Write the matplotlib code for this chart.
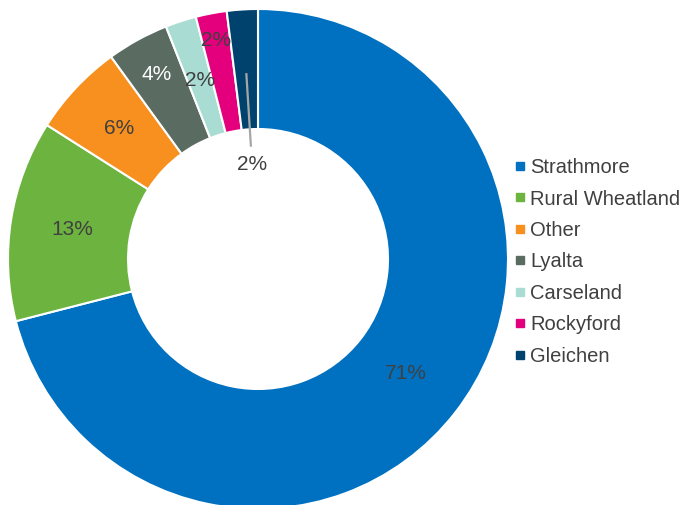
import numpy as np
import matplotlib
matplotlib.use("Agg")
import matplotlib.pyplot as plt
from matplotlib.lines import Line2D

plt.rcParams['font.family'] = ['Liberation Sans', 'DejaVu Sans']

# Share of respondents by community (%)
regions = ["Strathmore", "Rural Wheatland", "Other", "Lyalta",
           "Carseland", "Rockyford", "Gleichen"]
shares = [71, 13, 6, 4, 2, 2, 2]
colors = ["#0070C0", "#6DB33F", "#F7901E", "#5A6B62",
          "#A9DDD3", "#E4007C", "#00426E"]

# radial position of each percentage label (in units of the outer radius)
label_r = [0.75, 0.75, 0.76, 0.84, 0.75, 0.89, 0.38]
text_color = "#404040"
label_colors = [text_color, text_color, text_color, "white",
                text_color, text_color, text_color]

fig = plt.figure(figsize=(6.85, 5.05), dpi=100)
ax = fig.add_axes([8 / 685, -4 / 505, 500 / 685, 500 / 505])

wedges, _ = ax.pie(shares, colors=colors, startangle=90, counterclock=False,
                   radius=1.0,
                   wedgeprops=dict(width=0.48, edgecolor="white", linewidth=1.5))
ax.set_xlim(-1, 1)
ax.set_ylim(-1, 1)
ax.set_aspect("equal")
ax.axis("off")

for i, (w, v) in enumerate(zip(wedges, shares)):
    ang = np.deg2rad((w.theta1 + w.theta2) / 2)
    r = label_r[i]
    x, y = r * np.cos(ang), r * np.sin(ang)
    if r < 0.5:
        # label sits in the hole: connect it to the middle of its wedge
        ax.plot([0.745 * np.cos(ang), 0.45 * np.cos(ang)],
                [0.745 * np.sin(ang), 0.45 * np.sin(ang)],
                color="#A6A6A6", lw=1.6, solid_capstyle="butt", zorder=5)
    ax.text(x, y, f"{v}%", ha="center", va="center", fontsize=15,
            color=label_colors[i], zorder=6)

handles = [Line2D([], [], marker="s", linestyle="none", markersize=6,
                  markerfacecolor=c, markeredgecolor=c) for c in colors]
leg = fig.legend(handles, regions, loc="center left",
                 bbox_to_anchor=(514 / 685, 1 - 262 / 505),
                 frameon=False, fontsize=14.5, handlelength=0.6,
                 handletextpad=0.2, labelspacing=0.62,
                 borderpad=0, borderaxespad=0)
for t in leg.get_texts():
    t.set_color(text_color)

fig.savefig("out.png", dpi=100)
